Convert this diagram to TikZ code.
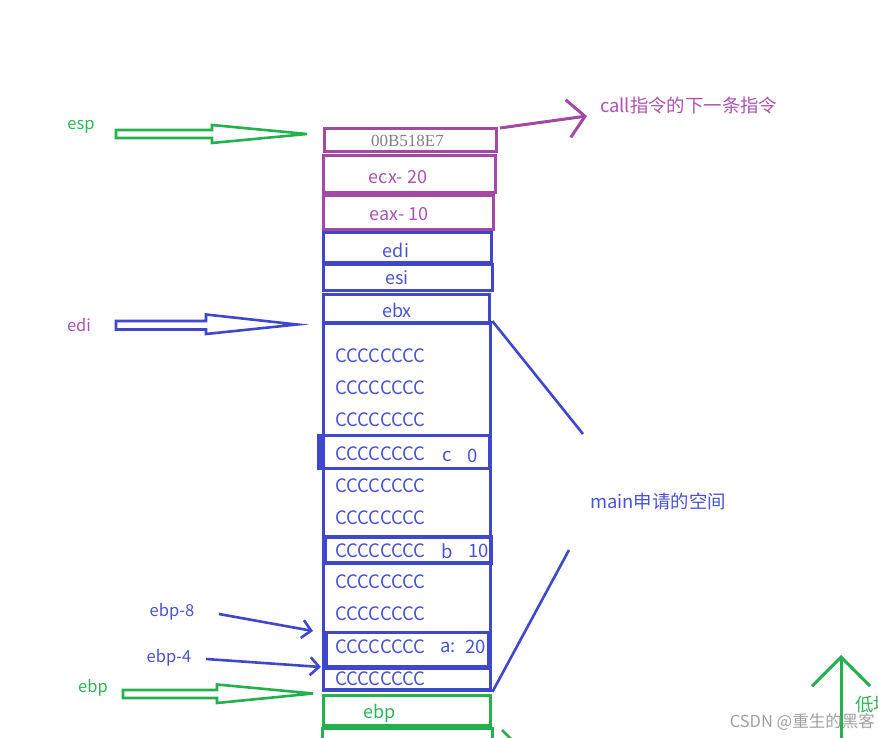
\documentclass[tikz,border=0pt]{standalone}
\usepackage{fontspec}
\setmainfont{Noto Sans CJK SC}
\newfontfamily\hexfont{Liberation Serif}
\usetikzlibrary{arrows.meta}
\definecolor{bl}{RGB}{63,72,204}
\definecolor{blt}{RGB}{72,82,210}
\definecolor{pu}{RGB}{163,73,164}
\definecolor{put}{RGB}{172,82,178}
\definecolor{gr}{RGB}{34,177,76}
\definecolor{grt}{RGB}{45,182,85}
\definecolor{wm}{RGB}{160,160,160}
\begin{document}
\begin{tikzpicture}[x=1pt,y=-1pt,
  box/.style={draw, rectangle, inner sep=0pt, line width=3pt},
  celltext/.style={inner sep=0pt, font=\fontsize{18}{21}\selectfont},
  lbl/.style={inner sep=0pt, font=\fontsize{16.5}{19}\selectfont},
  note/.style={inner sep=0pt, font=\fontsize{18.4}{21}\selectfont},
  crow/.style={inner sep=0pt, anchor=west, text=blt, font=\fontsize{18.5}{21}\selectfont},
  hollow/.style={line width=2.6pt, line join=miter},
  barb/.style={line width=2.6pt, -{Straight Barb[length=9pt,width=18pt,line width=2.6pt]}},
]
\useasboundingbox (0,0) rectangle (878,738);

% ---------- top boxes ----------
\node[box, draw=pu, minimum width=172, minimum height=23] (b1) at (410,140.5) {};
\node[box, draw=pu, minimum width=172, minimum height=37] (b2) at (409,174) {};
\node[box, draw=pu, minimum width=170, minimum height=34] (b3) at (408,213) {};
\node[box, draw=bl, minimum width=168, minimum height=29] (edi) at (407,247.5) {};
\node[box, draw=bl, minimum width=169, minimum height=26] (esi) at (407.5,277.5) {};
\node[box, draw=bl, minimum width=166, minimum height=28] (ebx) at (406.5,308.5) {};

\node[inner sep=0pt, text=wm!80!black, font=\hexfont\fontsize{17}{19}\selectfont] (t1) at (407.5,141) {00B518E7};
\node[celltext, text=put] (t2) at (398,177) {ecx- 20};
\node[celltext, text=put] (t3) at (399,214) {eax- 10};
\node[celltext, text=blt] (t4) at (396,250) {edi};
\node[celltext, text=blt] (t5) at (397,278) {esi};
\node[celltext, text=blt] (t6) at (397,310) {ebx};

% ---------- main frame ----------
\node[box, draw=bl, line width=3.8pt, minimum width=167, minimum height=367] (main) at (407,506.5) {};

% highlighted cells
\node[box, draw=bl, minimum width=169, minimum height=33] (cbox) at (405,451.5) {};
\draw[bl, line width=5pt] (cbox.north west) -- (cbox.south west);
\node[box, draw=bl, line width=3.4pt, minimum width=166, minimum height=26] (bbox) at (408.5,550) {};
\node[box, draw=bl, minimum width=162, minimum height=34] (abox) at (407.5,649) {};
\draw[bl, line width=5pt] (abox.south west) -- (abox.south east);

% CCCCCCCC rows
\foreach \n/\yy in {r1/356,r2/388,r3/420,r4/454,r5/486,r6/518,r7/551,r8/582,r9/614,r10/647,r11/679}
  \node[crow] (\n) at (335,\yy) {CCCCCCCC};
\node[crow] (cl) at (442,456) {c};
\node[crow] (cv) at (467,456) {0};
\node[crow] (bl1) at (441,551) {b};
\node[crow] (bv) at (468,551) {10};
\node[crow] (al) at (440,647) {a:};
\node[crow] (av) at (465,647) {20};

% ---------- bottom green boxes ----------
\node[box, draw=gr, minimum width=167, minimum height=30] (ebp) at (406.5,710) {};
\node[celltext, text=grt] (t7) at (380,713) {ebp};
\node[box, draw=gr, minimum width=170, minimum height=40] (next) at (407.5,748) {};
\coordinate (gs1) at (502,730);
\coordinate (gs2) at (512,740);
\draw[gr, line width=2.6pt] (gs1) -- (gs2);

% ---------- left labels and hollow arrows ----------
\node[lbl, text=grt] (espl) at (81,127) {esp};
\draw[gr, hollow] (116,130) -- (212,130) -- (212,125) -- (307,134) -- (212,143) -- (212,138) -- (116,138) -- cycle;

\node[lbl, text=put] (edil) at (79,325) {edi};
\draw[bl, hollow] (116,321) -- (206,321) -- (206,314.5) -- (297,324.5) -- (206,334) -- (206,329.5) -- (116,329.5) -- cycle;

\node[lbl, text=grt] (ebpl) at (93,688) {ebp};
\draw[gr, hollow] (123,690) -- (217,690) -- (217,684.5) -- (313,693.5) -- (217,703) -- (217,698) -- (123,698) -- cycle;

\node[lbl, text=blt] (e8) at (172,612) {ebp-8};
\node[lbl, text=blt] (e4) at (169,658) {ebp-4};
\coordinate (e8s) at (219,614);
\coordinate (e8t) at (313,631);
\coordinate (e4s) at (206,659);
\coordinate (e4t) at (321,667);
\draw[bl, barb] (e8s) -- (e8t);
\draw[bl, barb] (e4s) -- (e4t);

% ---------- right side ----------
\coordinate (cs) at (500,128);
\coordinate (ct) at (587,116);
\draw[pu, line width=3pt, -{Straight Barb[length=17pt,width=38pt,line width=3pt]}] (cs) -- (ct);
\node[note, text=put, anchor=west] (calltxt) at (600,106) {call指令的下一条指令};

\coordinate (m1) at (583,434);
\coordinate (m2) at (569,550);
\draw[bl, line width=2.6pt] (main.north east) -- (m1);
\draw[bl, line width=2.6pt] (main.south east) -- (m2);
\node[note, text=blt, anchor=west] (maintxt) at (590,501) {main申请的空间};

\coordinate (ub) at (841,745);
\coordinate (ut) at (841,655);
\draw[gr, line width=3pt, -{Straight Barb[length=29pt,width=58pt,line width=3pt]}] (ub) -- (ut);
\node[note, text=grt, anchor=west] (low) at (855,705) {低地址};

\node[inner sep=0pt, anchor=east, text=wm, font=\fontsize{16.5}{19}\selectfont] (wmark) at (875,722) {CSDN @重生的黑客};
\end{tikzpicture}
\end{document}
